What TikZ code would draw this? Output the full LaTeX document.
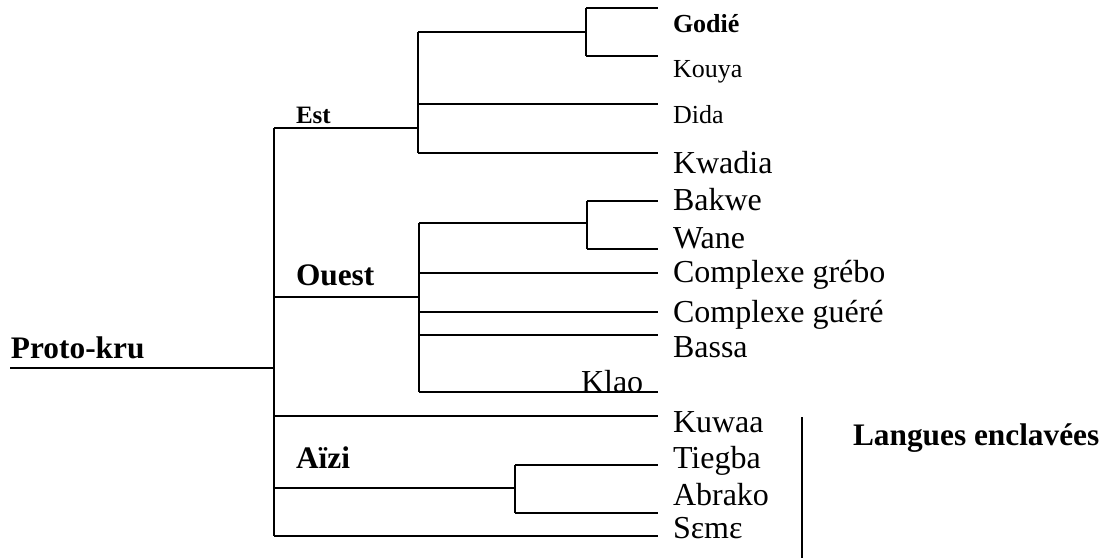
\documentclass[tikz,border=0pt]{standalone}
\usepackage{fontspec}
\setmainfont{Liberation Serif}
\begin{document}
\begin{tikzpicture}[x=0.75pt,y=-0.75pt,line width=1.5pt,
  lab/.style={anchor=base west,inner sep=0pt,font=\fontsize{24}{24}\selectfont},
  slab/.style={anchor=base west,inner sep=0pt,font=\fontsize{19.5}{19.5}\selectfont},
  grp/.style={anchor=base west,inner sep=0pt,font=\fontsize{23.5}{24}\selectfont\bfseries},
  sgrp/.style={anchor=base west,inner sep=0pt,font=\fontsize{18.75}{19}\selectfont\bfseries}]
\useasboundingbox (0,0) rectangle (1119,558);
% root
\coordinate (rootend) at (10,368);
\coordinate (P) at (274,368);
\coordinate (Ptop) at (274,128);
\coordinate (Pbot) at (274,536);
\node[grp] (proto) at (10,358) {Proto-kru};
\draw (rootend) -- (P);
\draw (Ptop) -- (Pbot);
% Est
\node[sgrp] (est) at (295,123) {Est};
\coordinate (E) at (418,128);
\coordinate (Etop) at (418,32);
\coordinate (Ebot) at (418,153);
\draw (Ptop) -- (E);
\draw (Etop) -- (Ebot);
\coordinate (EG) at (586,32);
\coordinate (EGtop) at (586,8);
\coordinate (EGbot) at (586,56);
\draw (Etop) -- (EG);
\draw (EGtop) -- (EGbot);
\coordinate (godieE) at (658,8);
\coordinate (kouyaE) at (658,56);
\coordinate (didaE) at (658,104);
\coordinate (didaS) at (418,104);
\coordinate (kwadiaE) at (658,153);
\draw (EGtop) -- (godieE);
\draw (EGbot) -- (kouyaE);
\draw (didaS) -- (didaE);
\draw (Ebot) -- (kwadiaE);
\node[slab,font=\fontsize{19.5}{19.5}\selectfont\bfseries] (godie) at (672,32) {Godié};
\node[slab] (kouya) at (672,77) {Kouya};
\node[slab] (dida) at (672,123) {Dida};
\node[lab] (kwadia) at (672,173) {Kwadia};
% Ouest
\node[grp] (ouest) at (295,285) {Ouest};
\coordinate (PO) at (274,297);
\coordinate (O) at (419,297);
\coordinate (Otop) at (419,223);
\coordinate (Obot) at (419,392);
\draw (PO) -- (O);
\draw (Otop) -- (Obot);
\coordinate (OB) at (587,223);
\coordinate (OBtop) at (587,201);
\coordinate (OBbot) at (587,249);
\draw (Otop) -- (OB);
\draw (OBtop) -- (OBbot);
\coordinate (bakweE) at (658,201);
\coordinate (waneE) at (658,249);
\draw (OBtop) -- (bakweE);
\draw (OBbot) -- (waneE);
\coordinate (greboS) at (419,273);
\coordinate (greboE) at (658,273);
\coordinate (guereS) at (419,312);
\coordinate (guereE) at (658,312);
\coordinate (bassaS) at (419,335);
\coordinate (bassaE) at (658,335);
\coordinate (klaoE) at (658,392);
\draw (greboS) -- (greboE);
\draw (guereS) -- (guereE);
\draw (bassaS) -- (bassaE);
\draw (Obot) -- (klaoE);
\node[lab] (bakwe) at (672,210) {Bakwe};
\node[lab] (wane) at (672,248) {Wane};
\node[lab] (grebo) at (672,282) {Complexe grébo};
\node[lab] (guere) at (672,322) {Complexe guéré};
\node[lab] (bassa) at (672,357) {Bassa};
\node[lab] (klao) at (580,392) {Klao};
% Kuwaa
\coordinate (PK) at (274,416);
\coordinate (kuwaaE) at (658,416);
\draw (PK) -- (kuwaaE);
\node[lab] (kuwaa) at (672,432) {Kuwaa};
% Aizi
\node[grp] (aizi) at (295,468) {Aïzi};
\coordinate (PA) at (274,488);
\coordinate (A) at (515,488);
\coordinate (Atop) at (515,465);
\coordinate (Abot) at (515,513);
\draw (PA) -- (A);
\draw (Atop) -- (Abot);
\coordinate (tiegbaE) at (658,465);
\coordinate (abrakoE) at (658,513);
\draw (Atop) -- (tiegbaE);
\draw (Abot) -- (abrakoE);
\node[lab] (tiegba) at (672,468) {Tiegba};
\node[lab] (abrako) at (672,505) {Abrako};
% Seme
\coordinate (semeE) at (658,536);
\draw (Pbot) -- (semeE);
\node[lab] (seme) at (672,538) {Sɛmɛ};
% enclaved
\coordinate (sepTop) at (802,417);
\coordinate (sepBot) at (802,558);
\draw (sepTop) -- (sepBot);
\node[grp] (encl) at (852,445) {Langues enclavées};
\end{tikzpicture}
\end{document}
